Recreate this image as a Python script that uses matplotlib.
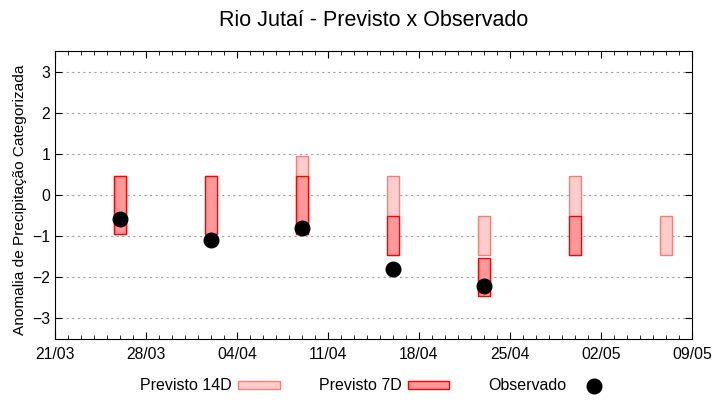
import numpy as np
import pandas as pd
import matplotlib
matplotlib.use('Agg')
import matplotlib.pyplot as plt
import matplotlib.dates as mdates
from matplotlib.patches import Patch
from matplotlib.lines import Line2D

plt.rcParams['font.family'] = ['Liberation Sans', 'DejaVu Sans']

# Datos
datas = pd.to_datetime(['2024-03-26', '2024-04-02', '2024-04-09', '2024-04-16',
                        '2024-04-23', '2024-04-30', '2024-05-07'])
p14_min = [-0.95, -0.95, -0.95, -1.45, -1.45, -1.45, -1.45]
p14_max = [0.45, 0.45, 0.95, 0.45, -0.5, 0.45, -0.5]
p7_min = [-0.95, -0.95, -0.95, -1.45, -2.45, -1.45]
p7_max = [0.45, 0.45, 0.45, -0.5, -1.52, -0.5]
obs = [-0.58, -1.1, -0.81, -1.8, -2.2]

fig = plt.figure(figsize=(7.2, 4), dpi=100)
ax = fig.add_axes([55/720, 61/400, 637/720, 288/400])

h14 = np.array(p14_max) - np.array(p14_min)
h7 = np.array(p7_max) - np.array(p7_min)
ax.bar(datas, h14, bottom=p14_min, width=0.9, color='#ffcccc',
       edgecolor='#f08078', linewidth=1, zorder=2)
ax.bar(datas[:len(p7_min)], h7, bottom=p7_min, width=0.9, color='#ff9999',
       edgecolor='#ff0000', linewidth=1, zorder=3)
ax.plot(datas[:len(obs)], obs, 'o', color='black', markersize=10.5, zorder=4)

inicio = pd.Timestamp('2024-03-21')
fim = pd.Timestamp('2024-05-09')
ax.set_xlim(inicio, fim)
ax.set_ylim(-3.5, 3.5)
semanas = pd.date_range(inicio, fim, freq='7D')
ax.set_xticks(semanas)
ax.set_xticklabels([d.strftime('%d/%m') for d in semanas])
ax.xaxis.set_minor_locator(mdates.DayLocator())
ax.set_yticks(range(-3, 4))

ax.tick_params(which='both', direction='in', top=True, right=True, labelsize=11.3)
ax.tick_params(which='major', length=5)
ax.tick_params(which='minor', length=3)
ax.tick_params(axis='x', pad=6)
ax.grid(axis='y', linestyle=(0, (2, 3)), color='#a0a0a0', linewidth=0.8, zorder=0)

fig.text(373.5/720, 1 - 20/400, 'Rio Jutaí - Previsto x Observado',
         fontsize=15.5, ha='center', va='center')
fig.text(20/720, 1 - 200/400, 'Anomalia de Precipitação Categorizada',
         fontsize=11.1, rotation=90, ha='center', va='center')

handles = [Patch(facecolor='#ffcccc', edgecolor='#f08078'),
           Patch(facecolor='#ff9999', edgecolor='#ff0000'),
           Line2D([], [], marker='o', color='black', linestyle='none', markersize=10.5)]
fig.legend(handles, ['Previsto 14D', 'Previsto 7D', 'Observado'],
           loc='center', bbox_to_anchor=(0.524, 1 - 386/400), ncol=3,
           frameon=False, markerfirst=False, handlelength=2.6, handleheight=0.45,
           handletextpad=0.4, columnspacing=2.45, fontsize=11.5)

fig.savefig('out.png', dpi=100)
